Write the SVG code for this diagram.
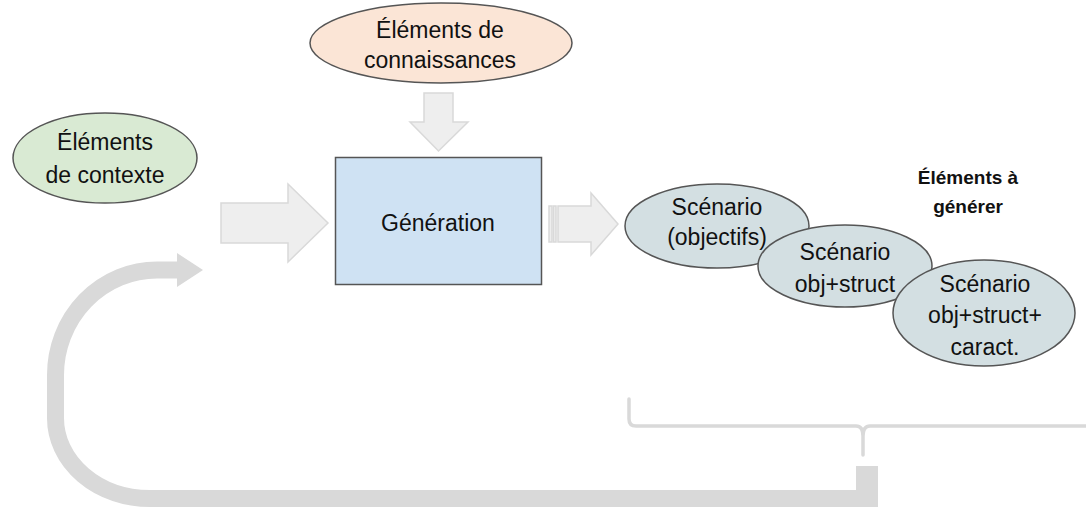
<svg xmlns="http://www.w3.org/2000/svg" width="1086" height="507" viewBox="0 0 1086 507">
<style>
text{font-family:"Liberation Sans",Arial,sans-serif;font-size:23px;fill:#111;text-anchor:middle}
text.b{font-weight:bold;font-size:19px}
.node{stroke:#555;stroke-width:1.5}
.blk{fill:#eeeeee;stroke:#d9d9d9;stroke-width:1.5}
</style>
<rect width="1086" height="507" fill="#fff"/>
<g id="connectors">
  <polygon class="blk" points="424,93 453,93 453,122 468,122 438.5,151 410,122 424,122"/>
  <polygon class="blk" points="221,203 288,203 288,184 328,223 288,262 288,243 221,243"/>
  <polygon class="blk" points="558,206 591,206 591,193 618,224 591,255 591,242 558,242"/>
  <rect class="blk" x="549" y="206" width="3" height="36"/>
  <rect class="blk" x="553.5" y="206" width="2.5" height="36"/>
  <path d="M629 399 V419 Q629 426 636 426 H856 Q863 426 863 436 V455 M863 436 Q863 426 870 426 H1090" fill="none" stroke="#d9d9d9" stroke-width="3.5" stroke-linecap="round"/>
  <path d="M867 498.5 H150 A94.5 80.5 0 0 1 55.5 418 V375 A101.5 105 0 0 1 157 270 H178" fill="none" stroke="#d9d9d9" stroke-width="17"/>
  <polygon points="177,253 203,270 177,287" fill="#d9d9d9"/>
  <rect x="856" y="466" width="22" height="41" fill="#d9d9d9"/>
</g>
<g id="connaissances">
  <ellipse class="node" cx="441" cy="43" rx="131" ry="40" fill="#fbe5d6"/>
  <text x="440" y="38">Éléments de</text>
  <text x="440" y="68">connaissances</text>
</g>
<g id="contexte">
  <ellipse class="node" cx="105" cy="158" rx="92" ry="45" fill="#d9ead3"/>
  <text x="105" y="150">Éléments</text>
  <text x="105" y="183">de contexte</text>
</g>
<g id="generation">
  <rect class="node" x="335.5" y="157.5" width="206" height="127" fill="#cfe2f3"/>
  <text x="438" y="231">Génération</text>
</g>
<g id="scenario1">
  <ellipse class="node" cx="717" cy="226" rx="92" ry="42" fill="#d3dfe2"/>
  <text x="717" y="215">Scénario</text>
  <text x="717" y="245">(objectifs)</text>
</g>
<g id="scenario2">
  <ellipse class="node" cx="845" cy="266" rx="87" ry="41" fill="#d3dfe2"/>
  <text x="845" y="260">Scénario</text>
  <text x="845" y="292">obj+struct</text>
</g>
<g id="scenario3">
  <ellipse class="node" cx="984" cy="313" rx="91" ry="53" fill="#d3dfe2"/>
  <text x="985" y="292">Scénario</text>
  <text x="985" y="323">obj+struct+</text>
  <text x="985" y="355">caract.</text>
</g>
<g id="label">
  <text class="b" x="968" y="184">Éléments à</text>
  <text class="b" x="968" y="213">générer</text>
</g>
</svg>
